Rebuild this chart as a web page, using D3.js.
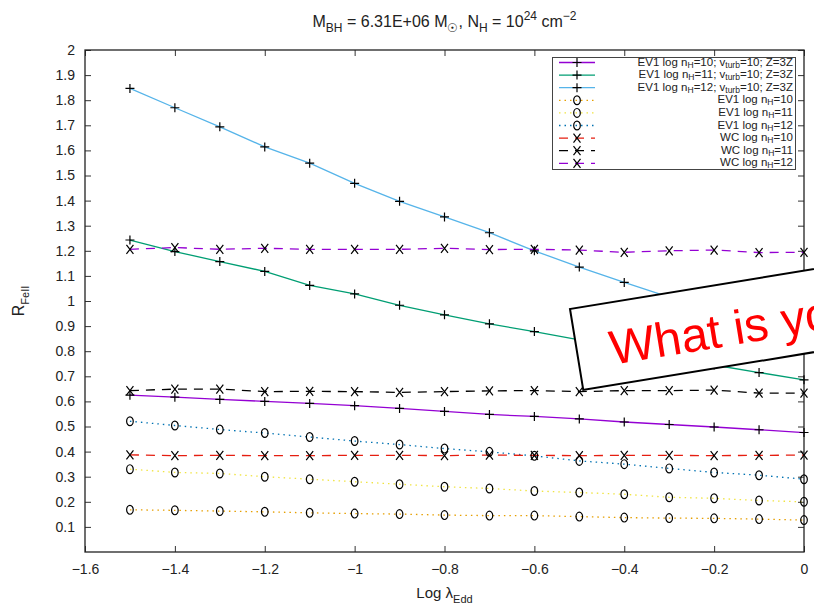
<!DOCTYPE html>
<html>
<head>
<meta charset="utf-8">
<script src="https://cdn.jsdelivr.net/npm/d3@7"></script>
<style>
    body { margin: 0; background: #fff; }
    text { font-family: "Liberation Sans", Arial, Helvetica, sans-serif; }
</style>
</head>
<body>
<svg id="chart" width="814" height="607"></svg>
<script>
// log lambda_Edd grid
const logEdd = [-1.5, -1.4, -1.3, -1.2, -1.1, -1.0, -0.9, -0.8, -0.7, -0.6, -0.5, -0.4, -0.3, -0.2, -0.1, 0.0];

// EV1 with v_turb=10, Z=3Z
const ev1Turb10 = [0.625, 0.617, 0.608, 0.600, 0.592, 0.583, 0.572, 0.560, 0.548, 0.540, 0.530, 0.518, 0.508, 0.498, 0.487, 0.476];
const ev1Turb11 = [1.243, 1.197, 1.157, 1.118, 1.062, 1.028, 0.983, 0.945, 0.909, 0.878, 0.845, 0.810, 0.775, 0.745, 0.715, 0.686];
const ev1Turb12 = [1.847, 1.770, 1.694, 1.614, 1.549, 1.469, 1.397, 1.335, 1.272, 1.200, 1.135, 1.074, 1.015, 0.955, 0.895, 0.835];

// EV1 plain
const ev1N10 = [0.168, 0.166, 0.163, 0.160, 0.156, 0.153, 0.151, 0.147, 0.145, 0.145, 0.141, 0.137, 0.135, 0.134, 0.131, 0.127];
const ev1N11 = [0.330, 0.317, 0.313, 0.300, 0.290, 0.280, 0.270, 0.260, 0.253, 0.243, 0.237, 0.230, 0.218, 0.214, 0.205, 0.200];
const ev1N12 = [0.521, 0.504, 0.488, 0.474, 0.458, 0.442, 0.428, 0.412, 0.399, 0.383, 0.363, 0.350, 0.333, 0.317, 0.306, 0.290];

// WC
const wcN10 = [0.387, 0.384, 0.385, 0.384, 0.384, 0.385, 0.385, 0.384, 0.386, 0.385, 0.384, 0.385, 0.385, 0.384, 0.385, 0.386];
const wcN11 = [0.643, 0.649, 0.649, 0.639, 0.640, 0.639, 0.636, 0.639, 0.642, 0.643, 0.639, 0.643, 0.643, 0.645, 0.633, 0.633];
const wcN12 = [1.206, 1.213, 1.206, 1.210, 1.206, 1.206, 1.206, 1.210, 1.205, 1.206, 1.203, 1.194, 1.200, 1.203, 1.193, 1.194];

const xTicks = [-1.6, -1.4, -1.2, -1.0, -0.8, -0.6, -0.4, -0.2, 0];
const yTicks = [0.1, 0.2, 0.3, 0.4, 0.5, 0.6, 0.7, 0.8, 0.9, 1, 1.1, 1.2, 1.3, 1.4, 1.5, 1.6, 1.7, 1.8, 1.9, 2];

// legend labels: [text, 1 = subscript / 2 = superscript]
const series = [
    {values: ev1Turb10, color: "#9400d3", dash: null, mark: "plus",
        label: [["EV1 log n"], ["H", 1], ["=10; v"], ["turb", 1], ["=10; Z=3Z"]]},
    {values: ev1Turb11, color: "#009e73", dash: null, mark: "plus",
        label: [["EV1 log n"], ["H", 1], ["=11; v"], ["turb", 1], ["=10; Z=3Z"]]},
    {values: ev1Turb12, color: "#56b4e9", dash: null, mark: "plus",
        label: [["EV1 log n"], ["H", 1], ["=12; v"], ["turb", 1], ["=10; Z=3Z"]]},
    {values: ev1N10, color: "#e69f00", dash: "1.5,4", mark: "circle",
        label: [["EV1 log n"], ["H", 1], ["=10"]]},
    {values: ev1N11, color: "#f0e442", dash: "1.5,4", mark: "circle",
        label: [["EV1 log n"], ["H", 1], ["=11"]]},
    {values: ev1N12, color: "#0072b2", dash: "1.5,4", mark: "circle",
        label: [["EV1 log n"], ["H", 1], ["=12"]]},
    {values: wcN10, color: "#e51e10", dash: "9,7", mark: "cross",
        label: [["WC log n"], ["H", 1], ["=10"]]},
    {values: wcN11, color: "#000000", dash: "9,7", mark: "cross",
        label: [["WC log n"], ["H", 1], ["=11"]]},
    {values: wcN12, color: "#9400d3", dash: "9,7", mark: "cross",
        label: [["WC log n"], ["H", 1], ["=12"]]}
];

const svg = d3.select("#chart");
const plotLeft = 85, plotRight = 804, plotTop = 50, plotBottom = 552;

const x = d3.scaleLinear().domain([-1.6, 0]).range([plotLeft, plotRight]);
const y = d3.scaleLinear().domain([0, 2]).range([plotBottom, plotTop]);

// write text made of normal and subscript/superscript pieces
function richText(sel, pieces, size, subSize, subShift) {
    let shift = 0;
    pieces.forEach(function (p) {
        const want = p[1] === 1 ? subShift : (p[1] === 2 ? -size * 0.45 : 0);
        sel.append("tspan")
            .attr("dy", want - shift)
            .attr("font-size", p[1] ? subSize : size)
            .text(p[0]);
        shift = want;
    });
}

function drawMarker(g, type) {
    if (type === "circle") {
        g.append("ellipse")
            .attr("rx", 3.3).attr("ry", 4.4)
            .attr("fill", "none").attr("stroke", "#000").attr("stroke-width", 1.2);
    } else {
        g.append("path")
            .attr("d", type === "plus" ? "M-4.5,0H4.5M0,-4.5V4.5" : "M-3.5,-4.5L3.5,4.5M3.5,-4.5L-3.5,4.5")
            .attr("fill", "none").attr("stroke", "#000").attr("stroke-width", 1.2);
    }
}

// axes with inward ticks
svg.append("g")
    .attr("transform", "translate(0," + plotBottom + ")")
    .call(d3.axisBottom(x).tickValues(xTicks).tickSizeInner(-6).tickSizeOuter(0)
        .tickPadding(12).tickFormat(d3.format("~g")))
    .call(function (g) { g.select(".domain").remove(); });

svg.append("g")
    .attr("transform", "translate(0," + plotTop + ")")
    .call(d3.axisTop(x).tickValues(xTicks).tickSizeInner(-6).tickSizeOuter(0).tickFormat(""))
    .call(function (g) { g.select(".domain").remove(); });

svg.append("g")
    .attr("transform", "translate(" + plotLeft + ",0)")
    .call(d3.axisLeft(y).tickValues(yTicks).tickSizeInner(-6).tickSizeOuter(0)
        .tickPadding(10).tickFormat(d3.format("~g")))
    .call(function (g) { g.select(".domain").remove(); });

svg.append("g")
    .attr("transform", "translate(" + plotRight + ",0)")
    .call(d3.axisRight(y).tickValues(yTicks).tickSizeInner(-6).tickSizeOuter(0).tickFormat(""))
    .call(function (g) { g.select(".domain").remove(); });

svg.selectAll(".tick text")
    .attr("font-size", 14)
    .attr("fill", "#222")
    .attr("font-family", "Liberation Sans, Arial, sans-serif");
svg.selectAll(".tick line").attr("stroke", "#333");

svg.append("rect")
    .attr("x", plotLeft).attr("y", plotTop)
    .attr("width", plotRight - plotLeft).attr("height", plotBottom - plotTop)
    .attr("fill", "none").attr("stroke", "#222").attr("stroke-width", 1.3);

// titles
const title = svg.append("text")
    .attr("x", (plotLeft + plotRight) / 2).attr("y", 27)
    .attr("text-anchor", "middle").attr("fill", "#222");
richText(title, [["M"], ["BH", 1], [" = 6.31E+06 M"], ["\u2609", 1], [", N"], ["H", 1], [" = 10"], ["24", 2], [" cm"], ["\u22122", 2]], 16, 12, 4.5);

const xLabel = svg.append("text")
    .attr("x", (plotLeft + plotRight) / 2).attr("y", 598)
    .attr("text-anchor", "middle").attr("fill", "#222");
richText(xLabel, [["Log \u03bb"], ["Edd", 1]], 15, 11, 4.5);

const yLabel = svg.append("text")
    .attr("transform", "translate(24," + (plotTop + plotBottom) / 2 + ") rotate(-90)")
    .attr("text-anchor", "middle").attr("fill", "#222");
richText(yLabel, [["R"], ["FeII", 1]], 16, 11, 5);

// series
const line = d3.line()
    .x(function (d, i) { return x(logEdd[i]); })
    .y(function (d) { return y(d); });

const plot = svg.append("g");
series.forEach(function (s) {
    plot.append("path")
        .datum(s.values)
        .attr("d", line)
        .attr("fill", "none")
        .attr("stroke", s.color)
        .attr("stroke-width", 1.3)
        .attr("stroke-dasharray", s.dash);
});
series.forEach(function (s) {
    plot.append("g").selectAll("g")
        .data(s.values)
        .enter()
        .append("g")
        .attr("transform", function (d, i) {
            return "translate(" + x(logEdd[i]) + "," + y(d) + ")";
        })
        .each(function () { drawMarker(d3.select(this), s.mark); });
});

// legend
const legend = svg.append("g");
legend.append("rect")
    .attr("x", 552.5).attr("y", 57.5).attr("width", 243).attr("height", 112)
    .attr("fill", "#fff").attr("stroke", "#444").attr("stroke-width", 1);

const row = legend.selectAll("g.row")
    .data(series)
    .enter()
    .append("g")
    .attr("class", "row")
    .attr("transform", function (d, i) { return "translate(0," + (62.5 + i * 12.6) + ")"; });

row.append("line")
    .attr("x1", 559).attr("x2", 595)
    .attr("stroke", function (d) { return d.color; })
    .attr("stroke-width", 1.3)
    .attr("stroke-dasharray", function (d) { return d.dash; });

row.append("g")
    .attr("transform", "translate(577,0)")
    .each(function (d) { drawMarker(d3.select(this), d.mark); });

row.append("text")
    .attr("x", 793).attr("y", 3)
    .attr("text-anchor", "end").attr("fill", "#222")
    .each(function (d) { richText(d3.select(this), d.label, 11.5, 8.5, 2); });

// pasted-on caption box
const callout = svg.append("g")
    .attr("transform", "translate(570,309) rotate(-9.3)");
callout.append("rect")
    .attr("width", 420).attr("height", 82)
    .attr("fill", "#fff").attr("stroke", "#000").attr("stroke-width", 2);
callout.append("text")
    .attr("x", 33).attr("y", 62)
    .attr("font-size", 48).attr("fill", "#ff0000")
    .text("What is yo");
</script>
</body>
</html>
